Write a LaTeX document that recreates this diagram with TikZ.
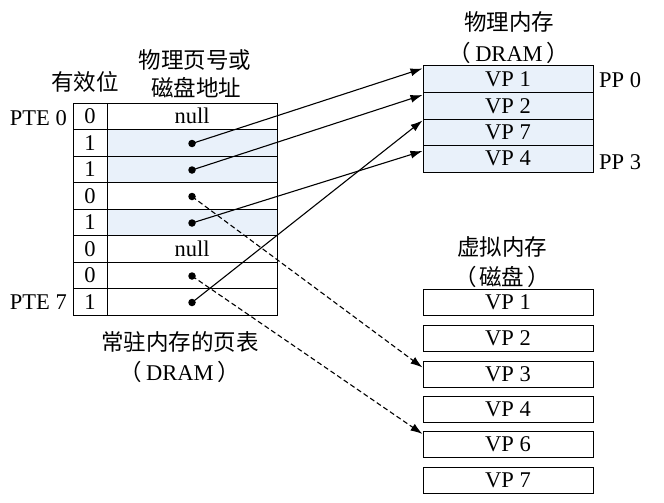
\documentclass[tikz,border=0pt]{standalone}
\usepackage{fontspec}
\setmainfont{Liberation Serif}
\newfontfamily\cjk{Noto Sans CJK SC}
\usetikzlibrary{arrows.meta,calc}
\definecolor{shade}{RGB}{233,241,250}
\tikzset{
  txt/.style={inner sep=0pt,font=\fontsize{22.5}{25}\selectfont},
  cjktxt/.style={inner sep=0pt,font=\fontsize{22.5}{25}\selectfont\cjk},
  vcell/.style={txt,draw,line width=1pt,minimum width=34pt,minimum height=26.5pt},
  acell/.style={txt,draw,line width=1pt,minimum width=170pt,minimum height=26.5pt},
  pcell/.style={txt,draw,line width=1pt,fill=shade,minimum width=170pt,minimum height=26.5pt},
  kcell/.style={txt,draw,line width=1pt,minimum width=170pt,minimum height=26pt},
  ptr/.style={circle,fill=black,inner sep=0pt,minimum size=7.5pt},
  arr/.style={line width=1.1pt,-{Latex[length=12pt,width=8pt]}},
  darr/.style={line width=1.1pt,dash pattern=on 5pt off 3pt,-{Latex[length=12pt,width=8pt]}},
}
\begin{document}
\begin{tikzpicture}[x=1pt,y=-1pt]
\useasboundingbox[fill=white] (0,0) rectangle (664,503);
% page table
\foreach \i/\v/\s in {0/0/white,1/1/shade,2/1/shade,3/0/white,4/1/shade,5/0/white,6/0/white,7/1/white}{
  \node[vcell] (v\i) at (90,{116.25+26.5*\i}) {\v};
  \node[acell,fill=\s] (a\i) at (192,{116.25+26.5*\i}) {};
}
\node[txt] (n0) at (a0) {null};
\node[txt] (n5) at (a5) {null};
\foreach \i in {1,2,3,4,6,7}{\node[ptr] (d\i) at (192,{117+26.5*\i}) {};}
\node[txt,anchor=east] (pte0) at (67,118) {PTE 0};
\node[txt,anchor=east] (pte7) at (67,302) {PTE 7};
\node[cjktxt] (valid) at (85,82) {有效位};
\node[cjktxt] (hd1) at (195,60) {物理页号或};
\node[cjktxt] (hd2) at (196,88) {磁盘地址};
\node[cjktxt] (cap1) at (180,342) {常驻内存的页表};
\node[txt] (cap2) at (180,372) {{\cjk （}\kern4pt DRAM\kern4pt{\cjk ）}};
% physical memory
\foreach \i/\t in {1/VP 1,2/VP 2,3/VP 7,4/VP 4}{
  \node[pcell] (p\i) at (508,{79.25+26.5*(\i-1)}) {\t};
}
\node[txt,anchor=west] (pp0) at (599,80) {PP 0};
\node[txt,anchor=west] (pp3) at (599,162) {PP 3};
\node[cjktxt] (pt1) at (509,22) {物理内存};
\node[txt] (pt2) at (509,53) {{\cjk （}\kern4pt DRAM\kern4pt{\cjk ）}};
% disk
\foreach \i/\t/\y in {1/VP 1/302,2/VP 2/338,3/VP 3/374,4/VP 4/409.5,5/VP 6/444.5,6/VP 7/480}{
  \node[kcell] (k\i) at (508,\y) {\t};
}
\node[cjktxt] (kt1) at (502,247) {虚拟内存};
\node[cjktxt] (kt2) at (502,277) {（\kern3pt 磁盘\kern3pt ）};
% connectors
\draw[arr] (d1.center) -- ([yshift=-3pt]p1.north west);
\draw[arr] (d2.center) -- ([yshift=-3pt]p2.north west);
\draw[arr] (d4.center) -- ([yshift=-6pt]p4.north west);
\draw[arr] (d7.center) -- ([yshift=-2pt]p3.north west);
\draw[darr] (d3.center) -- ([yshift=-7pt]k3.north west);
\draw[darr] (d6.center) -- ([yshift=-3pt]k5.north west);
\end{tikzpicture}
\end{document}
